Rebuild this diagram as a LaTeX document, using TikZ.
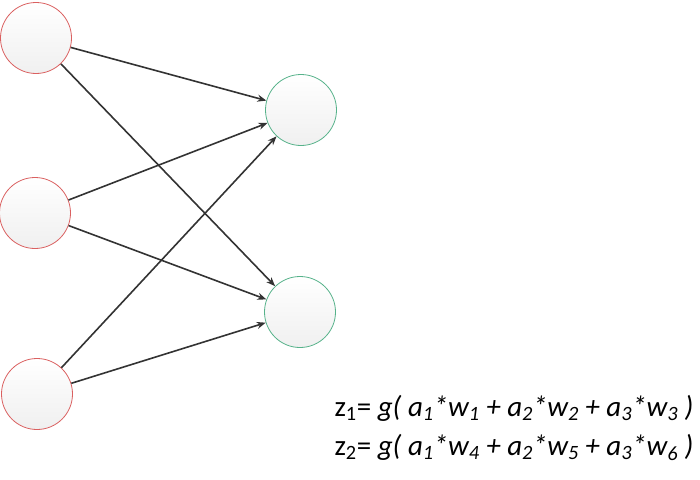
\documentclass[tikz,border=0pt]{standalone}
\usepackage{fontspec}
\setmainfont{Carlito}
\usetikzlibrary{arrows.meta}

\definecolor{inred}{RGB}{218,96,96}
\definecolor{outgreen}{RGB}{86,178,138}
\definecolor{edgegray}{RGB}{51,51,51}

\tikzset{
  neuron/.style={circle,minimum size=71pt,inner sep=0pt,line width=0.8pt,
    top color=white,bottom color=black!6},
  inp/.style={neuron,draw=inred},
  outp/.style={neuron,draw=outgreen},
  conn/.style={draw=edgegray,line width=1.6pt,-{Stealth[length=9pt,width=7pt]}},
  formula/.style={anchor=base west,font=\fontsize{29}{29}\selectfont},
}

\begin{document}
\begin{tikzpicture}[x=1pt,y=-1pt]
    % Page frame
    \useasboundingbox (0,0) rectangle (700,479);

    % Input layer
    \node[inp] (a1) at (36,38) {};
    \node[inp] (a2) at (35,213) {};
    \node[inp] (a3) at (37,394) {};

    % Output layer
    \node[outp] (z1) at (301,110) {};
    \node[outp] (z2) at (300,312) {};

    % Weights
    \foreach \i in {1,2,3}
        \foreach \j in {1,2}
            \draw[conn] (a\i) -- (z\j);

    % Formulas
    \node[formula] (f1) at (331,416)
        {z\textsubscript{1}= \textit{g( a\textsubscript{1}*w\textsubscript{1} + a\textsubscript{2}*w\textsubscript{2} + a\textsubscript{3}*w\textsubscript{3} )}};
    \node[formula] (f2) at (331,455)
        {z\textsubscript{2}= \textit{g( a\textsubscript{1}*w\textsubscript{4} + a\textsubscript{2}*w\textsubscript{5} + a\textsubscript{3}*w\textsubscript{6} )}};
\end{tikzpicture}
\end{document}
